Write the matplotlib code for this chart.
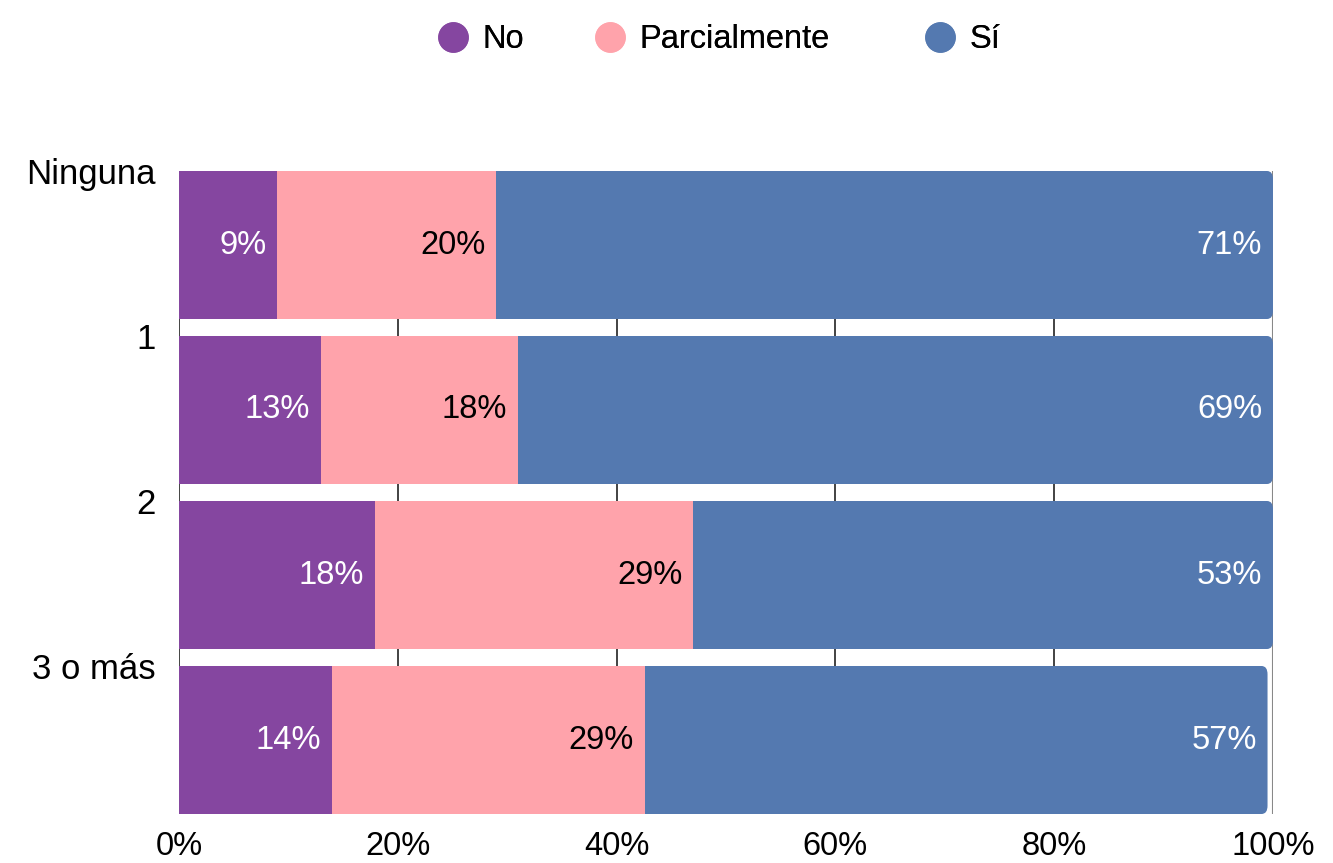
import numpy as np
import matplotlib
matplotlib.use('Agg')
import matplotlib.pyplot as plt
from matplotlib.lines import Line2D
from matplotlib.patches import FancyBboxPatch

plt.rcParams['font.family'] = ['Liberation Sans', 'DejaVu Sans']

# Datos
categorias = ['Ninguna', '1', '2', '3 o más']
no = [9.0, 13.0, 17.9, 14.0]
parcial = [20.0, 18.0, 29.1, 28.6]
si = [71.0, 69.0, 53.0, 56.9]
etiquetas_no = ['9%', '13%', '18%', '14%']
etiquetas_parcial = ['20%', '18%', '29%', '29%']
etiquetas_si = ['71%', '69%', '53%', '57%']
series = ['No', 'Parcialmente', 'Sí']

COLORES = {'No': '#8546A0', 'Parcialmente': '#FFA3AB', 'Sí': '#5479B0'}
TEXTO = {'No': 'white', 'Parcialmente': 'black', 'Sí': 'white'}
FS = 23.5

fig = plt.figure(figsize=(13.33, 8.63), dpi=100)
ax = fig.add_axes([179 / 1333, 1 - 814 / 863, (1273 - 179) / 1333, (814 - 171) / 863])

alto = 148 / 165
y = np.arange(len(categorias))
ax.set_ylim(len(categorias) - 1 + alto / 2, -alto / 2)
ax.set_xlim(0, 100)

# Rejilla
for gx in [0, 20, 40, 60, 80]:
    ax.axvline(gx, color='#222222', lw=1.2, zorder=0)
ax.axvline(100, color='#888888', lw=1.5, zorder=0)

izq = np.zeros(len(categorias))
valores = {'No': no, 'Parcialmente': parcial, 'Sí': si}
textos = {'No': etiquetas_no, 'Parcialmente': etiquetas_parcial, 'Sí': etiquetas_si}
for s in series:
    vals = np.array(valores[s])
    if s == 'Sí':
        # parte recta + extremo redondeado
        ax.barh(y, vals - 1.5, left=izq, height=alto, color=COLORES[s], zorder=2)
        for i in range(len(categorias)):
            fin = izq[i] + vals[i]
            p = FancyBboxPatch((fin - 3, y[i] - alto / 2), 3, alto,
                               boxstyle='round,pad=0,rounding_size=0.55',
                               mutation_aspect=100 / 1094,
                               fc=COLORES[s], ec='none', zorder=2)
            ax.add_patch(p)
    else:
        ax.barh(y, vals, left=izq, height=alto, color=COLORES[s], zorder=2)
    for i in range(len(categorias)):
        fin = izq[i] + vals[i]
        ax.text(fin - 1.0, y[i], textos[s][i], ha='right', va='center',
                color=TEXTO[s], fontsize=FS, zorder=3)
    izq = izq + vals

# Ejes
ax.set_yticks(y - alto / 2)
ax.set_yticklabels(categorias, fontsize=25)
ax.tick_params(axis='y', length=0, pad=17)
ax.set_xticks([0, 20, 40, 60, 80, 100])
ax.set_xticklabels(['0%', '20%', '40%', '60%', '80%', '100%'], fontsize=FS)
ax.tick_params(axis='x', length=0, pad=12)
for sp in ax.spines.values():
    sp.set_visible(False)

# Leyenda
posiciones = [453, 610, 940]
fs_px = FS * 100 / 72
for s, px in zip(series, posiciones):
    h = Line2D([], [], marker='o', ls='none', markersize=22,
               markerfacecolor=COLORES[s], markeredgecolor='none')
    leg = fig.legend([h], [s], loc='center left',
                     bbox_to_anchor=((px - fs_px / 2) / 1333, 1 - 40 / 863),
                     frameon=False, fontsize=FS, handletextpad=0.4,
                     borderpad=0, borderaxespad=0, handlelength=1.0)
    fig.add_artist(leg)

fig.savefig('out.png', dpi=100)
